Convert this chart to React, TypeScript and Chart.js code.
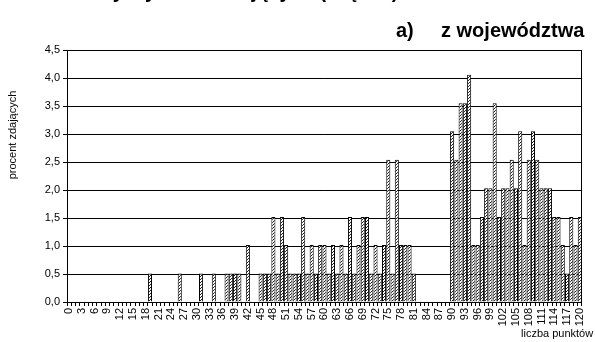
import React, { useEffect, useRef } from "react";
import { Chart, registerables } from "chart.js";

Chart.register(...registerables);

// ---- data ----
const categories: string[] = Array.from({ length: 121 }, (_, i) => String(i));

// percent of students for each number of points (0..120)
const percentValues: number[] = [
  // 0-9
  0, 0, 0, 0, 0, 0, 0, 0, 0, 0,
  // 10-19
  0, 0, 0, 0, 0, 0, 0, 0, 0, 0.51,
  // 20-29
  0, 0, 0, 0, 0, 0, 0.51, 0, 0, 0,
  // 30-39
  0, 0.51, 0, 0, 0.51, 0, 0, 0.51, 0.51, 0.51,
  // 40-49
  0.51, 0, 1.02, 0, 0, 0.51, 0.51, 0.51, 1.52, 0.51,
  // 50-59
  1.52, 1.02, 0.51, 0.51, 0.51, 1.52, 0.51, 1.02, 0.51, 1.02,
  // 60-69
  1.02, 0.51, 1.02, 0.51, 1.02, 0.51, 1.52, 0.51, 1.02, 1.52,
  // 70-79
  1.52, 0.51, 1.02, 0.51, 1.02, 2.54, 0.51, 2.54, 1.02, 1.02,
  // 80-89
  1.02, 0.51, 0, 0, 0, 0, 0, 0, 0, 0,
  // 90-99
  3.05, 2.54, 3.55, 3.55, 4.06, 1.02, 1.02, 1.52, 2.03, 2.03,
  // 100-109
  3.55, 1.52, 2.03, 2.03, 2.54, 2.03, 3.05, 1.02, 2.54, 3.05,
  // 110-120
  2.54, 2.03, 2.03, 2.03, 1.52, 1.52, 1.02, 0.51, 1.52, 1.02, 1.52,
];

const xLabelStep = 3;
const yMin = 0;
const yMax = 4.5;
const yStep = 0.5;

const titleTop = "Rozkłady wyników zdających (część I)";
const titleLetter = "a)";
const titleSub = "z województwa";
const yAxisTitle = "procent zdających";
const xAxisTitle = "liczba punktów";

const FONT = "'Liberation Sans', Arial, Helvetica, sans-serif";

function makeHatch(): CanvasPattern | string {
  const c = document.createElement("canvas");
  c.width = 3;
  c.height = 3;
  const g = c.getContext("2d");
  if (!g) return "#999";
  g.fillStyle = "#ffffff";
  g.fillRect(0, 0, 3, 3);
  g.fillStyle = "#1e1e1e";
  g.fillRect(2, 0, 1, 1);
  g.fillRect(1, 1, 1, 1);
  g.fillRect(0, 2, 1, 1);
  return g.createPattern(c, "repeat") || "#999";
}

const framePlugin = {
  id: "frameRight",
  afterDatasetsDraw(chart: any) {
    const { ctx, chartArea: a } = chart;
    ctx.save();
    ctx.strokeStyle = "#000";
    ctx.lineWidth = 1;
    const r = Math.round(a.right) - 0.5;
    const t = Math.round(a.top) + 0.5;
    ctx.beginPath();
    ctx.moveTo(r, a.top);
    ctx.lineTo(r, a.bottom);
    ctx.moveTo(a.left, t);
    ctx.lineTo(a.right, t);
    ctx.stroke();
    ctx.restore();
  },
};

export default function App() {
  const canvasRef = useRef<HTMLCanvasElement | null>(null);

  useEffect(() => {
    document.body.style.margin = "0";
    const canvas = canvasRef.current;
    if (!canvas) return;
    Chart.defaults.font.family = FONT;
    Chart.defaults.font.size = 11;
    Chart.defaults.color = "#000";

    const chart = new Chart(canvas, {
      type: "bar",
      data: {
        labels: categories,
        datasets: [
          {
            data: percentValues,
            backgroundColor: makeHatch() as any,
            borderColor: "#000",
            borderWidth: 1,
            barPercentage: 0.96,
            categoryPercentage: 1,
          },
        ],
      },
      options: {
        animation: false,
        responsive: false,
        maintainAspectRatio: false,
        layout: { padding: { top: 50, right: 2, left: 0, bottom: 0 } },
        plugins: {
          legend: { display: false },
          tooltip: { enabled: false },
          title: { display: false },
        },
        scales: {
          x: {
            type: "category",
            offset: true,
            grid: {
              display: true,
              drawOnChartArea: false,
              drawTicks: true,
              tickLength: 4,
              color: "#000",
              offset: true,
            },
            border: { display: true, color: "#000", width: 1 },
            ticks: {
              autoSkip: false,
              minRotation: 90,
              maxRotation: 90,
              padding: 2,
              color: "#000",
              font: { family: FONT, size: 11 },
              callback: (_v: any, index: number) =>
                index % xLabelStep === 0 ? categories[index] : "",
            },
            afterFit: (scale: any) => {
              scale.height = 40;
            },
          },
          y: {
            min: yMin,
            max: yMax,
            grid: {
              color: "#000",
              lineWidth: 1,
              tickLength: 4,
              drawTicks: true,
            },
            border: { display: true, color: "#000", width: 1 },
            ticks: {
              stepSize: yStep,
              padding: 3,
              color: "#000",
              font: { family: FONT, size: 11 },
              callback: (v: any) => Number(v).toFixed(1).replace(".", ","),
            },
            afterFit: (scale: any) => {
              scale.width = 67;
            },
          },
        },
      },
      plugins: [framePlugin],
    });

    return () => {
      chart.destroy();
    };
  }, []);

  const bold: React.CSSProperties = {
    position: "absolute",
    fontFamily: FONT,
    fontWeight: "bold",
    fontSize: 20,
    lineHeight: "20px",
    whiteSpace: "nowrap",
    color: "#000",
  };

  return (
    <div
      style={{
        position: "absolute",
        left: 0,
        top: 0,
        width: 595,
        height: 342,
        overflow: "hidden",
        background: "#fff",
      }}
    >
      <canvas
        ref={canvasRef}
        width={595}
        height={342}
        style={{ position: "absolute", left: 0, top: 0 }}
      />
      <div style={{ ...bold, left: 36, top: -19 }}>{titleTop}</div>
      <div style={{ ...bold, left: 396, top: 20 }}>{titleLetter}</div>
      <div style={{ ...bold, left: 441, top: 20 }}>{titleSub}</div>
      <div
        style={{
          position: "absolute",
          left: 12 - 60,
          top: 135 - 6,
          width: 120,
          height: 12,
          lineHeight: "12px",
          textAlign: "center",
          fontFamily: FONT,
          fontSize: 11,
          whiteSpace: "nowrap",
          color: "#000",
          transform: "rotate(-90deg)",
          transformOrigin: "50% 50%",
        }}
      >
        {yAxisTitle}
      </div>
      <div
        style={{
          position: "absolute",
          left: 521,
          top: 328,
          fontFamily: FONT,
          fontSize: 11,
          lineHeight: "11px",
          whiteSpace: "nowrap",
          color: "#000",
        }}
      >
        {xAxisTitle}
      </div>
    </div>
  );
}
